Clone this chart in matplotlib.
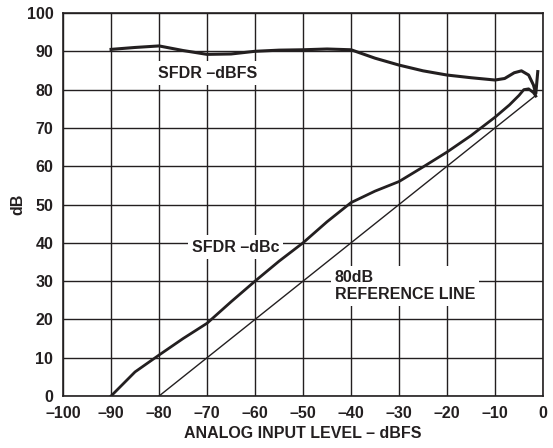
import numpy as np
import matplotlib
matplotlib.use("Agg")
import matplotlib.pyplot as plt

# values
dbfs_x = [-90, -85, -80, -75, -70, -65, -60, -55, -50, -45, -40, -35, -30, -25,
          -20, -15, -10, -8, -6, -4.5, -3, -2, -1.5, -1.1]
dbfs_y = [90.5, 91.0, 91.4, 90.2, 89.2, 89.3, 90.0, 90.3, 90.4, 90.6, 90.4, 88.2,
          86.4, 84.9, 83.8, 83.1, 82.5, 82.9, 84.4, 84.9, 83.8, 81.2, 79.0, 84.7]

dbc_x = [-90, -85, -80, -75, -70, -65, -60, -55, -50, -45, -40, -35, -30, -25,
         -20, -15, -10, -7, -5, -4, -3, -2, -1.5]
dbc_y = [0, 6.3, 10.7, 15.0, 19.0, 24.6, 30.0, 35.2, 40.0, 45.5, 50.5, 53.5,
         56.0, 59.8, 63.7, 68.0, 72.8, 76.0, 78.5, 80.0, 80.2, 79.2, 78.3]

ref_x = [-80, -1.5]
ref_y = [0, 78.5]

xticks = list(range(-100, 1, 10))
yticks = list(range(0, 101, 10))

ink = '#231f20'
fs = 11.5
plt.rcParams['font.family'] = ['Liberation Sans', 'DejaVu Sans']
plt.rcParams['font.weight'] = 'bold'

fig = plt.figure(figsize=(5.53, 4.48), dpi=100)
ax = fig.add_axes([0.114, 0.116, 0.868, 0.855])

ax.set_xlim(-100, 0)
ax.set_ylim(0, 100)
ax.set_xticks(xticks)
ax.set_yticks(yticks)
ax.set_xticklabels([str(t).replace('-', '\u2013') for t in xticks])
ax.set_yticklabels([str(t) for t in yticks])
ax.tick_params(length=0, labelsize=fs, colors=ink)
ax.tick_params(axis='x', pad=7)
ax.tick_params(axis='y', pad=7)
for lab in ax.get_xticklabels() + ax.get_yticklabels():
    lab.set_fontweight('bold')
ax.grid(True, color=ink, linewidth=1.0)
ax.set_axisbelow(True)
for s in ax.spines.values():
    s.set_color(ink)
    s.set_linewidth(1.2)

ax.plot(ref_x, ref_y, color=ink, linewidth=1.0, zorder=3)
ax.plot(dbc_x, dbc_y, color=ink, linewidth=2.0, zorder=4)
ax.plot(dbfs_x, dbfs_y, color=ink, linewidth=2.2, zorder=4)

box = dict(facecolor='white', edgecolor='none', pad=3)
ax.text(-80.2, 84.3, 'SFDR \u2013dBFS', fontsize=fs, fontweight='bold', color=ink,
        va='center', ha='left', bbox=box, zorder=2.5)
ax.text(-73.2, 38.9, 'SFDR \u2013dBc', fontsize=fs, fontweight='bold', color=ink,
        va='center', ha='left', bbox=box, zorder=2.5)
ax.text(-43.4, 28.7, '80dB\nREFERENCE LINE', fontsize=fs, fontweight='bold', color=ink,
        va='center', ha='left', linespacing=1.1, bbox=box, zorder=2.5)

ax.set_xlabel('ANALOG INPUT LEVEL \u2013 dBFS', fontsize=fs, fontweight='bold', color=ink, labelpad=4)
ax.set_ylabel('dB', fontsize=fs, fontweight='bold', color=ink, labelpad=1)

fig.savefig('out.png', dpi=100, facecolor='white')
